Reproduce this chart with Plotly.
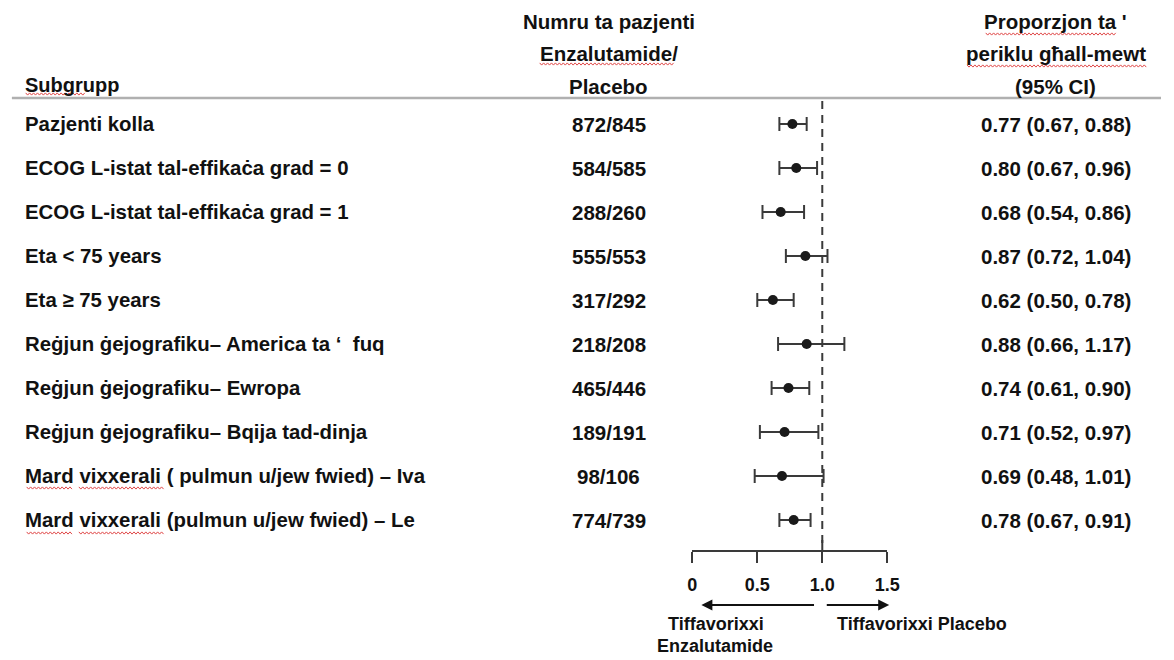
import plotly.graph_objects as go

# Subgroup forest plot: hazard ratio with 95% CI per subgroup
subgroups = [
    "Pazjenti kolla",
    "ECOG L-istat tal-effikaċa grad = 0",
    "ECOG L-istat tal-effikaċa grad = 1",
    "Eta < 75 years",
    "Eta ≥ 75 years",
    "Reġjun ġejografiku– America ta ‘  fuq",
    "Reġjun ġejografiku– Ewropa",
    "Reġjun ġejografiku– Bqija tad-dinja",
    "Mard vixxerali ( pulmun u/jew fwied) – Iva",
    "Mard vixxerali (pulmun u/jew fwied) – Le",
]
patients = ["872/845", "584/585", "288/260", "555/553", "317/292",
            "218/208", "465/446", "189/191", "98/106", "774/739"]
hr = [0.77, 0.80, 0.68, 0.87, 0.62, 0.88, 0.74, 0.71, 0.69, 0.78]
ci_low = [0.67, 0.67, 0.54, 0.72, 0.50, 0.66, 0.61, 0.52, 0.48, 0.67]
ci_high = [0.88, 0.96, 0.86, 1.04, 0.78, 1.17, 0.90, 0.97, 1.01, 0.91]
tick_vals = [0, 0.5, 1.0, 1.5]
tick_text = ["0", "0.5", "1.0", "1.5"]

W, H = 1174, 660
FONT = "Arial, Liberation Sans, sans-serif"
INK = "#111111"
LINE = "#3a3a3a"

# layout geometry in pixels
ROW0, ROW_STEP = 124, 44
X0_PX, X15_PX = 698, 896
LEFT_X, COUNT_X, VALUE_X = 18, 613, 1067


def px(x):
    return x / W


def py(y):
    return 1 - y / H


rows = list(range(len(subgroups)))
y_top = -ROW0 / ROW_STEP
y_bot = (H - ROW0) / ROW_STEP

fig = go.Figure()

fig.add_trace(go.Scatter(
    x=hr, y=rows, mode="markers",
    marker=dict(size=10, color="#1a1a1a"),
    error_x=dict(
        type="data", symmetric=False,
        array=[h - m for h, m in zip(ci_high, hr)],
        arrayminus=[m - l for m, l in zip(hr, ci_low)],
        thickness=2, width=7, color=LINE,
    ),
    hoverinfo="skip", showlegend=False, cliponaxis=False,
))

annotations = []


def label(text, x, y, size=20, anchor="center", yref="paper"):
    annotations.append(dict(
        text=f"<b>{text}</b>", x=x, y=y, xref="paper", yref=yref,
        xanchor=anchor, yanchor="middle", showarrow=False,
        font=dict(family=FONT, size=size, color=INK),
    ))


# column headers
label("Subgrupp", px(LEFT_X), py(85), anchor="left")
for txt, yy in [("Numru ta pazjenti", 22), ("Enzalutamide/", 54), ("Placebo", 86)]:
    label(txt, px(COUNT_X), py(yy), size=20.5)
for txt, yy in [("Proporzjon ta '", 22), ("periklu għall-mewt", 54), ("(95% CI)", 86)]:
    label(txt, px(VALUE_X), py(yy), size=20.5)

# row text
for i, (name, n, h, lo, hi) in enumerate(zip(subgroups, patients, hr, ci_low, ci_high)):
    label(name, px(LEFT_X), i, size=20.4, anchor="left", yref="y")
    label(n, px(COUNT_X), i, size=20.5, yref="y")
    label(f"{h:.2f} ({lo:.2f}, {hi:.2f})", px(VALUE_X), i, size=20.5, yref="y")

# direction arrows under the axis
arrow_y = (605 - ROW0) / ROW_STEP
for x_tip, x_tail in [(0.07, 0.948), (1.515, 1.023)]:
    annotations.append(dict(
        x=x_tip, y=arrow_y, ax=x_tail, ay=arrow_y,
        xref="x", yref="y", axref="x", ayref="y",
        text="", showarrow=True, arrowhead=2, arrowsize=1.1,
        arrowwidth=2, arrowcolor="#111111",
    ))
label("Tiffavorixxi", px(722), py(624), size=18)
label("Enzalutamide", px(721), py(646), size=18)
label("Tiffavorixxi Placebo", px(931), py(624), size=18)

shapes = [
    # header separator
    dict(type="line", xref="paper", yref="paper", x0=px(7), x1=1,
         y0=py(98), y1=py(98), line=dict(color="#b0b0b0", width=2.5)),
    # line of no effect
    dict(type="line", xref="x", yref="paper", x0=1, x1=1,
         y0=py(101), y1=py(548), line=dict(color=LINE, width=2, dash="8px,6px")),
    # raised tick at 1.0
    dict(type="line", xref="x", yref="paper", x0=1, x1=1,
         y0=py(540), y1=py(551), line=dict(color=LINE, width=2)),
]


# spell-check style wavy underlines
def squiggle(x_start, x_end, y):
    pts = []
    x = x_start
    k = 0
    while x <= x_end:
        yy = y + (1.1 if k % 2 else -1.1)
        pts.append(f"{px(x):.5f},{py(yy):.5f}")
        x += 2
        k += 1
    return dict(type="path", xref="paper", yref="paper",
                path="M" + " L".join(pts),
                line=dict(color="#e04848", width=1))


for xs, xe, yy in [(21, 82, 94), (543, 680, 64), (996, 1128, 34),
                   (977, 1160, 66),
                   (22, 69, 488), (75, 162, 488), (22, 69, 533), (75, 162, 533)]:
    shapes.append(squiggle(xs, xe, yy))

fig.update_layout(
    width=W, height=H,
    margin=dict(l=0, r=0, t=0, b=0),
    paper_bgcolor="white", plot_bgcolor="rgba(0,0,0,0)",
    xaxis=dict(
        domain=[px(X0_PX), px(X15_PX)], range=[0, 1.5],
        anchor="free", position=py(551),
        showline=True, linecolor=LINE, linewidth=2,
        ticks="outside", ticklen=11, tickwidth=2, tickcolor=LINE,
        tickvals=tick_vals, ticktext=[f"<b>{t}</b>" for t in tick_text],
        tickfont=dict(family=FONT, size=18, color=INK),
        ticklabelstandoff=6,
        showgrid=False, zeroline=False, fixedrange=True,
    ),
    yaxis=dict(
        domain=[0, 1], range=[y_bot, y_top],
        visible=False, showgrid=False, zeroline=False, fixedrange=True,
    ),
    annotations=annotations,
    shapes=shapes,
    showlegend=False,
)

fig.write_html("out.html")
